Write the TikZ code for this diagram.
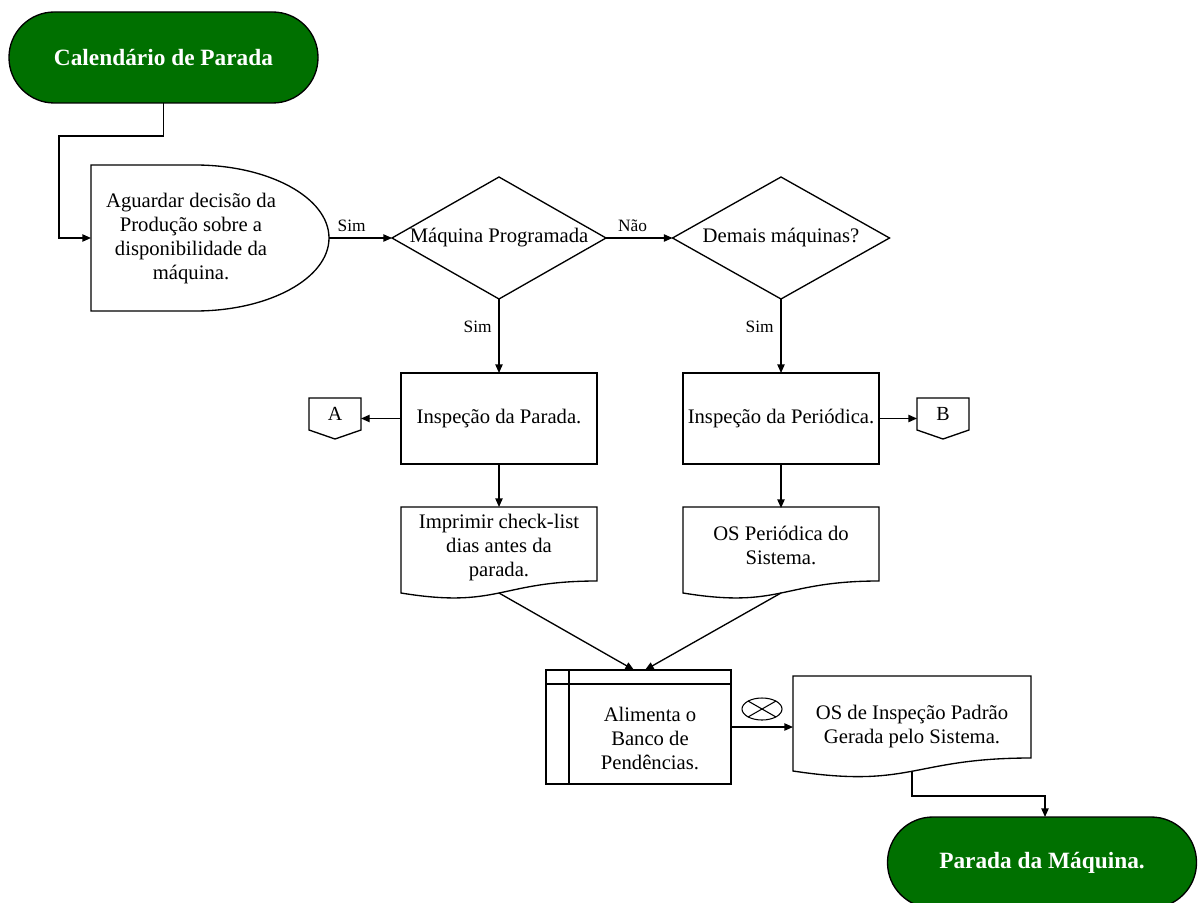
\documentclass[tikz,border=0pt]{standalone}
\usepackage{fontspec}
\setmainfont{Liberation Serif}
\usetikzlibrary{arrows.meta,calc}
\definecolor{termgreen}{RGB}{0,112,0}
\tikzset{
  frame/.style 2 args={minimum width=#1, minimum height=#2, inner sep=0pt, outer sep=0pt},
  outline/.style={draw=black, line width=1pt, line join=miter},
  body/.style={font=\fontsize{15.5}{18}\selectfont, align=center, text=black},
  tag/.style={font=\fontsize{13}{15}\selectfont, text=black, inner sep=1pt},
  pagetag/.style={font=\fontsize{15}{17}\selectfont, text=black},
  flow/.style={draw=black, line width=1pt, -{Triangle[length=6.5pt,width=5.5pt]}},
  terminal/.style={draw=black, line width=1pt, fill=termgreen, rounded corners=34pt,
    minimum width=231.75pt, minimum height=68.25pt, inner sep=0pt, outer sep=0pt,
    font=\bfseries\fontsize{17.5}{20}\selectfont, text=white},
}
\begin{document}
\begin{tikzpicture}[x=0.75pt, y=-0.75pt]
\useasboundingbox (0,0) rectangle (1201,902);
\clip (0,0) rectangle (1201,902);

% terminals
\node[terminal] (start) at (163.5,57.5) {Calendário de Parada};
\node[terminal] (stop) at (1042,862.5) {Parada da Máquina.};

% delay: waiting for production
\node[frame={178.5pt}{109.5pt}] (delay) at (210,238) {};
\draw[outline] (91,165) -- (195,165)
  arc[start angle=-90, end angle=90, x radius=134, y radius=73] -- (91,311) -- cycle;
\node[body] (delaytext) at (191,239) {Aguardar decisão da\\Produção sobre a\\disponibilidade da\\máquina.};

% decisions
\node[frame={160.5pt}{91.5pt}, body] (prog) at (499,238) {Máquina Programada};
\draw[outline] (prog.west) -- (prog.north) -- (prog.east) -- (prog.south) -- cycle;
\node[frame={162.75pt}{91.5pt}, body] (others) at (781,238) {Demais máquinas?};
\draw[outline] (others.west) -- (others.north) -- (others.east) -- (others.south) -- cycle;

% inspections
\node[frame={147pt}{68.25pt}, body, outline] (insp1) at (499,418.5) {Inspeção da Parada.};
\node[frame={147pt}{68.25pt}, body, outline] (insp2) at (781,418.5) {Inspeção da Periódica.};

% off-page connectors
\node[frame={39pt}{24pt}, pagetag] (offA) at (335,414) {A};
\draw[outline] (offA.north west) -- (offA.north east) -- (offA.south east)
  -- ($(offA.south)+(0,9)$) -- (offA.south west) -- cycle;
\node[frame={39pt}{24pt}, pagetag] (offB) at (943,414) {B};
\draw[outline] (offB.north west) -- (offB.north east) -- (offB.south east)
  -- ($(offB.south)+(0,9)$) -- (offB.south west) -- cycle;

% documents
\node[frame={147pt}{55.5pt}, body] (doc1) at (499,544) {};
\node[body] (doc1text) at (499,548) {Imprimir check-list\\dias antes da\\parada.};
\draw[outline] (401,507) -- (597,507) -- (597,581)
  .. controls (499,581) and (499,609) .. (401,593) -- cycle;
\coordinate (doc1b) at (499,593);

\node[frame={147pt}{55.5pt}, body] (doc2) at (781,545) {OS Periódica do\\Sistema.};
\draw[outline] (683,507) -- (879,507) -- (879,581)
  .. controls (781,581) and (781,609) .. (683,593) -- cycle;
\coordinate (doc2b) at (781,593);

\node[frame={178.5pt}{75.75pt}, body] (doc3) at (912,727) {OS de Inspeção Padrão\\Gerada pelo Sistema.};
\draw[outline] (793,676) -- (1031,676) -- (1031,758)
  .. controls (912,758) and (912,789) .. (793,771) -- cycle;
\coordinate (doc3b) at (912,771);

% internal storage
\node[frame={138.75pt}{85.5pt}, outline] (db) at (638.5,727) {};
\draw[outline] (569,670) -- (569,784);
\draw[outline] (546,684) -- (731,684);
\node[body] (dbtext) at (650,738) {Alimenta o\\Banco de\\Pendências.};

% summing junction sign
\draw[line width=0.8pt] (762,709) ellipse [x radius=20, y radius=11];
\draw[line width=0.8pt] (748,701) -- (776,717) (748,717) -- (776,701);

% connectors
\draw[flow] (start.south) |- (59,136) |- (delay.west);
\draw[flow] (delay.east) -- node[tag, above=3pt, pos=0.36]{Sim} (prog.west);
\draw[flow] (prog.east) -- node[tag, above=3pt, pos=0.4]{Não} (others.west);
\draw[flow] (prog.south) -- node[tag, left=4pt, pos=0.38]{Sim} (insp1.north);
\draw[flow] (others.south) -- node[tag, left=4pt, pos=0.38]{Sim} (insp2.north);
\draw[flow] (insp1.west) -- (insp1.west -| offA.east);
\draw[flow] (insp2.east) -- (insp2.east -| offB.west);
\draw[flow] (insp1.south) -- (doc1.north);
\draw[flow] (insp2.south) -- (doc2.north);
\draw[flow] (doc1b) -- ($(db.north)+(-4.5,0)$);
\draw[flow] (doc2b) -- ($(db.north)+(6.5,0)$);
\draw[flow] (db.east) -- (db.east -| doc3.west);
\draw[flow] (doc3b) |- ($(stop.north)+(3,-21)$) -- ($(stop.north)+(3,0)$);
\end{tikzpicture}
\end{document}
